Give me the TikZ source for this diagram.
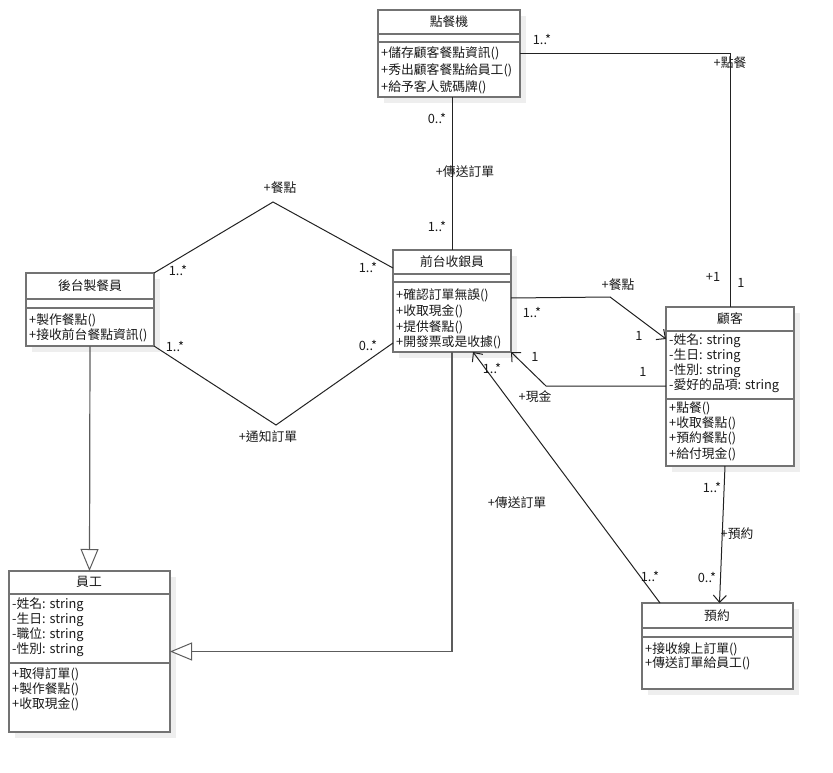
\documentclass[tikz,border=0pt]{standalone}
\usepackage{fontspec}
\setmainfont{Noto Sans CJK TC}
\usetikzlibrary{arrows.meta,calc}
\definecolor{boxgray}{HTML}{737373}
\definecolor{shadowc}{HTML}{EEEEEE}
\definecolor{linec}{HTML}{222222}
\definecolor{textc}{HTML}{1A1A1A}
\newcommand{\umlbox}[5]{%
  \fill[shadowc] (#2+6,#3+6) rectangle (#4+6,#5+6);
  \node[cls,minimum width=#4-#2,minimum height=#5-#3] (#1) at ({(#2+#4)/2},{(#3+#5)/2}) {};}
\begin{document}
\begin{tikzpicture}[x=1pt,y=-1pt,
  font=\fontsize{12.8}{15}\selectfont,
  cls/.style={draw=boxgray,line width=1.3pt,fill=white,inner sep=0pt,outer sep=0pt},
  sepline/.style={draw=boxgray,line width=1.3pt},
  txt/.style={anchor=west,inner sep=0pt,text=textc},
  ttl/.style={anchor=center,inner sep=0pt,text=textc},
  lbl/.style={inner sep=0pt,text=textc},
  assoc/.style={draw=linec,line width=1pt},
  nav/.style={assoc,-{Straight Barb[length=7pt,width=13pt,line width=1pt]}},
  gen/.style={draw=boxgray!80!black,line width=1.2pt,-{Triangle[open,length=22pt,width=18pt,fill=white,line width=1pt]}},
]
\useasboundingbox (0,0) rectangle (833,773);

% ---- classes ----
\umlbox{pos}{378}{10}{520}{97}
\draw[sepline] (378,34) -- (520,34) (378,42) -- (520,42);
\node[ttl] (posT) at (449,22) {點餐機};
\node[txt] (posM1) at (381,53) {+儲存顧客餐點資訊()};
\node[txt] (posM2) at (381,70) {+秀出顧客餐點給員工()};
\node[txt] (posM3) at (381,87) {+給予客人號碼牌()};

\umlbox{back}{26}{273}{154}{346}
\draw[sepline] (26,299) -- (154,299) (26,308) -- (154,308);
\node[ttl] (backT) at (90,286) {後台製餐員};
\node[txt] (backM1) at (29,320) {+製作餐點()};
\node[txt] (backM2) at (29,335) {+接收前台餐點資訊()};

\umlbox{front}{393}{250}{511}{352}
\draw[sepline] (393,274) -- (511,274) (393,282) -- (511,282);
\node[ttl] (frontT) at (452,262) {前台收銀員};
\node[txt] (frontM1) at (396,295) {+確認訂單無誤()};
\node[txt] (frontM2) at (396,311) {+收取現金()};
\node[txt] (frontM3) at (396,327) {+提供餐點()};
\node[txt] (frontM4) at (396,342) {+開發票或是收據()};

\umlbox{cust}{666}{307}{794}{466}
\draw[sepline] (666,331) -- (794,331) (666,399) -- (794,399);
\node[ttl] (custT) at (730,319) {顧客};
\node[txt] (custA1) at (669,341) {-姓名: string};
\node[txt] (custA2) at (669,356) {-生日: string};
\node[txt] (custA3) at (669,371) {-性別: string};
\node[txt] (custA4) at (669,386) {-愛好的品項: string};
\node[txt] (custM1) at (669,408) {+點餐()};
\node[txt] (custM2) at (669,423) {+收取餐點()};
\node[txt] (custM3) at (669,438) {+預約餐點()};
\node[txt] (custM4) at (669,454) {+給付現金()};

\umlbox{emp}{9}{571}{170}{732}
\draw[sepline] (9,594) -- (170,594) (9,663) -- (170,663);
\node[ttl] (empT) at (89,582) {員工};
\node[txt] (empA1) at (12,605) {-姓名: string};
\node[txt] (empA2) at (12,620) {-生日: string};
\node[txt] (empA3) at (12,635) {-職位: string};
\node[txt] (empA4) at (12,650) {-性別: string};
\node[txt] (empM1) at (12,674) {+取得訂單()};
\node[txt] (empM2) at (12,689) {+製作餐點()};
\node[txt] (empM3) at (12,704) {+收取現金()};

\umlbox{resv}{642}{603}{793}{689}
\draw[sepline] (642,628) -- (793,628) (642,637) -- (793,637);
\node[ttl] (resvT) at (717,616) {預約};
\node[txt] (resvM1) at (645,649) {+接收線上訂單()};
\node[txt] (resvM2) at (645,663) {+傳送訂單給員工()};

% ---- connectors ----
\draw[assoc] (pos.east) -| (cust.north);
\draw[assoc] (front.north |- pos.south) -- (front.north);
\coordinate (topV) at (273,202);
\coordinate (botV) at (276,425);
\draw[assoc] (back.north east) -- (topV) -- ($(front.north west)+(0,18)$);
\draw[assoc] (back.south east) -- (botV) -- ($(front.south west)+(0,-9)$);
\coordinate (c4) at (610,297);
\draw[nav] ($(front.north east)+(0,48)$) -- (c4) -- ($(cust.north west)+(0,32)$);
\coordinate (c5) at (546,386);
\draw[nav] ($(cust.north west)+(0,79)$) -- (c5) -- (front.south east);
\draw[nav] ($(resv.north west)+(18,0)$) -- ($(front.south west)+(80,0)$);
\draw[nav] ($(cust.south)+(-5,0)$) -- ($(resv.north)+(2,0)$);
\draw[gen] (back.south) -- (emp.north);
\draw[gen] (front.south) |- (emp.east);

% ---- labels ----
\node[lbl] (l1) at (542,39) {1..*};
\node[lbl] (l2) at (730,63) {+點餐};
\node[lbl] (l3) at (713,277) {+1};
\node[lbl] (l4) at (741,283) {1};
\node[lbl] (l5) at (437,118) {0..*};
\node[lbl] (l6) at (465,172) {+傳送訂單};
\node[lbl] (l7) at (437,226) {1..*};
\node[lbl] (l8) at (280,188) {+餐點};
\node[lbl] (l9) at (178,270) {1..*};
\node[lbl] (l10) at (368,267) {1..*};
\node[lbl] (l11) at (175,346) {1..*};
\node[lbl] (l12) at (368,345) {0..*};
\node[lbl] (l13) at (268,437) {+通知訂單};
\node[lbl] (l14) at (618,285) {+餐點};
\node[lbl] (l15) at (532,312) {1..*};
\node[lbl] (l16) at (639,336) {1};
\node[lbl] (l17) at (535,357) {1};
\node[lbl] (l18) at (643,372) {1};
\node[lbl] (l19) at (535,397) {+現金};
\node[lbl] (l20) at (492,368) {1..*};
\node[lbl] (l21) at (517,503) {+傳送訂單};
\node[lbl] (l22) at (650,576) {1..*};
\node[lbl] (l23) at (712,487) {1..*};
\node[lbl] (l24) at (737,534) {+預約};
\node[lbl] (l25) at (707,577) {0..*};
\end{tikzpicture}
\end{document}
